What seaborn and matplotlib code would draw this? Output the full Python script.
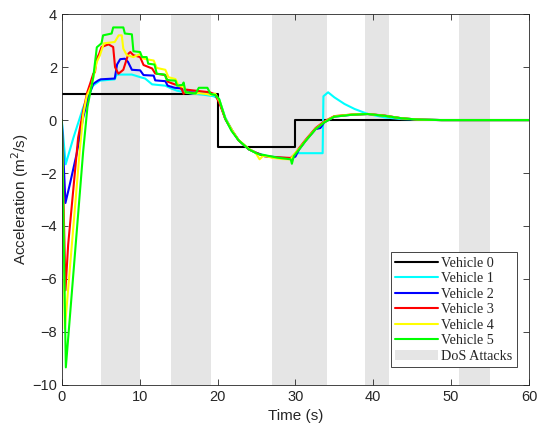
import pandas as pd
import numpy as np
import matplotlib
matplotlib.use('Agg')
import matplotlib.pyplot as plt
from matplotlib.patches import Patch
from matplotlib.lines import Line2D
import seaborn as sns

# DoS attack intervals (s)
dos_start = [5, 14, 27, 39, 51]
dos_end = [10, 19.2, 34, 42, 55]

# Vehicle 0 (leader)
t0 = [0, 20, 20, 30, 30, 60]
a0 = [1, 1, -1, -1, 0, 0]

# Vehicle 1
t1 = [0, 0.5, 1.5, 2.75, 3.4, 4.0, 4.9, 6.8, 7.05, 9.0, 10.1, 10.7, 11.6, 13.3, 14.0, 14.8,
      16.5, 18.2, 19.5, 20.2, 21.0, 21.9, 22.7, 24.0, 25.0, 26.4, 28.3, 29.4, 30.1, 33.5,
      33.6, 34.2, 35.0, 36.3, 37.6, 39.3, 41.5, 43.6, 46.0, 48.8, 60]
a1 = [0, -1.67, -0.66, 0.48, 0.92, 1.3, 1.49, 1.54, 1.72, 1.72, 1.62, 1.57, 1.35, 1.3, 1.2, 1.11,
      1.01, 0.96, 0.9, 0.8, 0.1, -0.41, -0.76, -1.1, -1.24, -1.36, -1.42, -1.45, -1.25, -1.25,
      0.9, 1.05, 0.86, 0.61, 0.42, 0.23, 0.1, 0.04, 0.02, 0.0, 0.0]

# Vehicle 2
t2 = [0, 0.47, 1.03, 1.9, 2.75, 3.4, 4.04, 4.7, 5.0, 6.8, 7.1, 7.5, 8.1, 8.5, 9.0, 10.06, 10.5,
      11.8, 12.0, 13.3, 13.6, 14.5, 15.2, 16.5, 18.5, 19.7, 20.3, 21.0, 21.9, 22.7, 24.0, 25.0,
      26.0, 27.5, 29.4, 30.0, 30.5, 31.3, 32.6, 33.2, 33.7, 35.0, 37.2, 39.3, 41.5, 43.6, 45.7,
      48.8, 60]
a2 = [0, -3.13, -2.43, -1.29, 0.1, 0.86, 1.37, 1.5, 1.54, 1.57, 2.1, 2.3, 2.32, 2.2, 1.9, 1.88, 1.7,
      1.68, 1.5, 1.47, 1.3, 1.22, 1.2, 1.05, 1.02, 0.97, 0.65, 0.04, -0.41, -0.76, -1.1, -1.24,
      -1.36, -1.42, -1.45, -1.38, -1.1, -0.79, -0.34, -0.3, -0.09, 0.13, 0.2, 0.23, 0.16, 0.07, 0.02,
      0.0, 0.0]

# Vehicle 3
t3 = [0, 0.47, 0.82, 2.1, 2.75, 3.27, 3.7, 4.04, 4.26, 4.47, 4.8, 5.1, 6.0, 6.6, 6.84, 7.27,
      7.9, 8.56, 8.8, 9.2, 10.06, 10.5, 11.6, 12.0, 13.3, 13.6, 14.5, 15.2, 15.65, 16.0, 17.5,
      19.0, 19.7, 20.3, 21.0, 21.9, 22.7, 24.0, 25.0, 26.0, 27.5, 29.4, 29.9, 30.5, 31.3, 32.6,
      33.7, 35.0, 37.2, 39.3, 41.5, 43.6, 45.7, 48.8, 60]
a3 = [0, -6.43, -4.7, -0.66, 0.35, 1.05, 1.43, 1.75, 1.81, 2.3, 2.5, 2.76, 2.86, 2.76, 2.0, 1.75,
      1.9, 2.51, 2.57, 2.45, 2.38, 2.08, 1.95, 1.76, 1.7, 1.45, 1.35, 1.3, 0.99, 1.15, 1.1,
      1.05, 0.97, 0.6, 0.04, -0.41, -0.76, -1.1, -1.24, -1.36, -1.4, -1.43, -1.3, -1.05, -0.75, -0.3,
      -0.05, 0.15, 0.21, 0.23, 0.17, 0.07, 0.02, 0.0, 0.0]

# Vehicle 4
t4 = [0, 0.39, 2.3, 2.75, 3.2, 3.83, 4.5, 4.9, 5.4, 6.8, 7.3, 7.7, 7.9, 8.35, 9.2, 10.06, 10.5,
      11.8, 12.2, 13.3, 13.7, 14.6, 15.0, 15.65, 15.9, 17.2, 17.6, 18.7, 19.1, 19.7, 20.3, 21.0,
      21.9, 22.7, 24.0, 24.9, 25.4, 25.9, 27.0, 28.3, 29.4, 29.8, 30.5, 31.3, 32.6, 33.7, 35.0,
      37.2, 39.3, 41.5, 43.6, 45.7, 48.8, 60]
a4 = [0, -7.88, -1.17, 0.2, 0.9, 1.32, 2.2, 2.45, 2.9, 2.95, 3.2, 3.2, 2.7, 2.45, 2.38, 2.5, 2.32,
      2.25, 1.97, 1.9, 1.62, 1.55, 1.3, 1.25, 1.05, 1.0, 1.02, 0.98, 0.95, 1.0, 0.7, 0.06,
      -0.4, -0.75, -1.08, -1.24, -1.48, -1.34, -1.42, -1.47, -1.48, -1.3, -1.08, -0.78, -0.33, -0.08,
      0.14, 0.21, 0.23, 0.16, 0.07, 0.02, 0.0, 0.0]

# Vehicle 5
t5 = [0, 0.52, 2.75, 3.3, 4.04, 4.5, 5.1, 5.3, 6.4, 6.6, 7.9, 8.1, 9.0, 9.2, 10.06, 10.3,
      10.9, 11.1, 11.9, 12.2, 13.2, 13.5, 14.0, 14.6, 14.8, 15.5, 15.65, 15.9, 17.2, 17.6,
      18.7, 19.1, 19.7, 20.2, 21.0, 21.8, 22.7, 24.0, 24.9, 25.4, 26.0, 27.7, 29.4, 29.55,
      29.8, 30.5, 31.3, 32.6, 33.7, 35.0, 37.2, 39.3, 41.5, 43.6, 45.7, 48.8, 60]
a5 = [0, -9.34, -1.17, 0.5, 1.62, 2.75, 2.9, 3.2, 3.27, 3.5, 3.5, 3.27, 3.24, 2.6, 2.57, 2.38,
      2.38, 2.13, 2.1, 1.75, 1.72, 1.52, 1.5, 1.49, 1.3, 1.33, 1.42, 1.05, 1.01, 1.22,
      1.22, 0.99, 0.95, 0.8, 0.05, -0.41, -0.76, -1.1, -1.24, -1.3, -1.32, -1.42, -1.48, -1.65,
      -1.36, -1.1, -0.79, -0.34, -0.09, 0.13, 0.2, 0.23, 0.16, 0.07, 0.02, 0.0, 0.0]

vehicles = ['Vehicle 0', 'Vehicle 1', 'Vehicle 2', 'Vehicle 3', 'Vehicle 4', 'Vehicle 5']
colors = ['#000000', '#00ffff', '#0000ff', '#ff0000', '#ffff00', '#00ff00']

frames = []
for name, t, a in zip(vehicles, [t0, t1, t2, t3, t4, t5], [a0, a1, a2, a3, a4, a5]):
    frames.append(pd.DataFrame({'t': t, 'a': a, 'Vehicle': name}))
df = pd.concat(frames, ignore_index=True)

sns.set_style('ticks')
plt.rcParams['font.family'] = ['Liberation Sans', 'DejaVu Sans']

fig = plt.figure(figsize=(5.42, 4.30), dpi=100)
ax = fig.add_axes([0.114, 0.105, 0.862, 0.862])

for s, e in zip(dos_start, dos_end):
    ax.axvspan(s, e, color='#e5e5e5', lw=0, zorder=0)

sns.lineplot(data=df, x='t', y='a', hue='Vehicle', palette=dict(zip(vehicles, colors)),
             estimator=None, sort=False, linewidth=1.5, ax=ax, legend=False)

ax.set_xlim(0, 60)
ax.set_ylim(-10, 4)
ax.set_xticks(np.arange(0, 61, 10))
ax.set_yticks(np.arange(-10, 5, 2))
ax.tick_params(direction='in', top=True, right=True, labelsize=10.5, colors='#262626',
               length=4, width=0.6)
for sp in ax.spines.values():
    sp.set_visible(True)
    sp.set_color('#262626')
    sp.set_linewidth(0.6)
ax.set_xlabel('Time (s)', fontsize=11, color='#262626')
ax.set_ylabel('Acceleration (m$^2$/s)', fontsize=11, color='#262626', labelpad=1)

handles = [Line2D([0], [0], color=c, lw=1.5) for c in colors]
handles.append(Patch(facecolor='#e5e5e5', edgecolor='none'))
labels = vehicles + ['DoS Attacks']
leg = ax.legend(handles, labels, loc='lower right', bbox_to_anchor=(0.974, 0.048),
                prop={'family': 'Liberation Serif', 'size': 10.2}, fancybox=False,
                edgecolor='#262626', framealpha=1, handlelength=3.0, handletextpad=0.25,
                labelspacing=0.18, borderpad=0.3, borderaxespad=0)
leg.get_frame().set_linewidth(0.6)

plt.savefig('out.png', dpi=100)
